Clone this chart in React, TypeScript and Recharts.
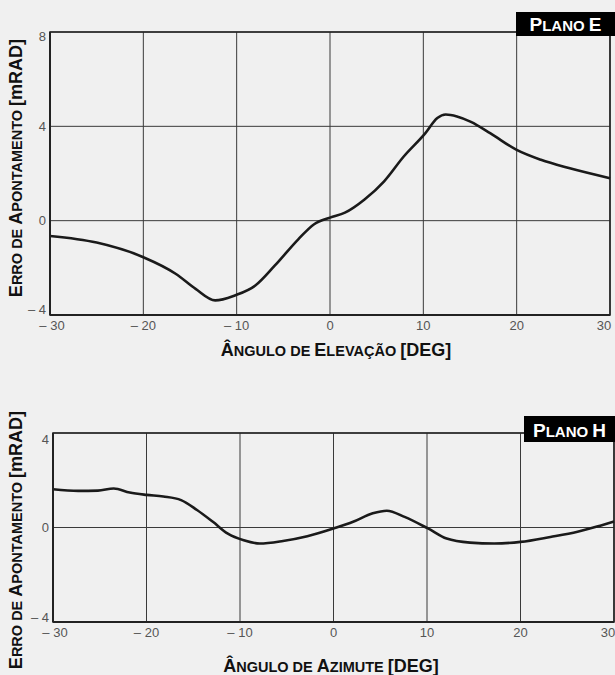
import React from 'react'
import {
  LineChart,
  Line,
  XAxis,
  YAxis,
  CartesianGrid,
  ReferenceArea
} from 'recharts'

// Plano E: elevation angle vs pointing error
const elevAngles = [-30, -25, -20, -16.5, -14.4, -12.3, -10.2, -8, -5.9, -3.4, -1.7, 0, 1.6, 3.7, 5.8, 7.9, 10.2, 11.5, 12.4, 13.6, 15.1, 17.2, 20, 22.6, 25.6, 30]
const elevError = [-0.65, -0.93, -1.55, -2.26, -2.89, -3.38, -3.17, -2.75, -1.9, -0.79, -0.15, 0.13, 0.34, 0.9, 1.67, 2.72, 3.7, 4.35, 4.5, 4.42, 4.19, 3.7, 3.0, 2.58, 2.23, 1.8]

// Plano H: azimuth angle vs pointing error
const aziAngles = [-30, -27.3, -25.2, -23.5, -21.8, -20, -18.2, -16.3, -14.6, -12.9, -11.3, -9.6, -7.9, -5.4, -2.8, 0, 2.1, 4.2, 5.7, 7.6, 10.1, 12.1, 14.6, 17.2, 20, 23.2, 26.1, 28.7, 30]
const aziError = [1.62, 1.55, 1.56, 1.65, 1.48, 1.38, 1.31, 1.16, 0.74, 0.24, -0.26, -0.54, -0.68, -0.57, -0.37, -0.04, 0.24, 0.6, 0.71, 0.45, -0.04, -0.47, -0.64, -0.68, -0.61, -0.4, -0.18, 0.1, 0.25]

const xTicks = [-30, -20, -10, 0, 10, 20, 30]
const xTickLabels = ['– 30', '– 20', '– 10', '0', '10', '20', '30']
const elevYTicks = [-4, 0, 4, 8]
const elevYLabels = ['– 4', '0', '4', '8']
const aziYTicks = [-4, 0, 4]
const aziYLabels = ['– 4', '0', '4']

const elevData = elevAngles.map((a, i) => ({ angle: a, error: elevError[i] }))
const aziData = aziAngles.map((a, i) => ({ angle: a, error: aziError[i] }))

const tickFont = 'Liberation Sans, Arial, sans-serif'
const titleFont = 'Liberation Sans, Arial, sans-serif'
const BIG = 18
const SMALL = 14.5

// edge labels sit inside the frame in the scan, not centred on the corner
const makeYTick = (ticks: number[], labels: string[], shifts: number[]) => (props: any) => {
  const i = ticks.indexOf(props.payload.value)
  return (
    <text x={props.x} y={props.y + shifts[i]} dy="0.35em" textAnchor="end" fill="#555" fontSize={13} fontFamily={tickFont}>
      {labels[i]}
    </text>
  )
}

const XTick = (props: any) => {
  const i = xTicks.indexOf(props.payload.value)
  const last = i === xTicks.length - 1
  return (
    <text x={props.x + (last ? -6 : i === 0 ? 2 : 0)} y={props.y} dy="0.71em" textAnchor="middle" fill="#555" fontSize={13} fontFamily={tickFont}>
      {xTickLabels[i]}
    </text>
  )
}

// small-caps style label: [text, big?]
type Part = [string, boolean]

const SmallCaps = ({ parts, ...rest }: { parts: Part[] } & React.SVGProps<SVGTextElement>) => (
  <text fontFamily={titleFont} fontWeight="bold" fill="#111" {...rest}>
    {parts.map(([t, big], i) => (
      <tspan key={i} fontSize={big ? BIG : SMALL}>{t}</tspan>
    ))}
  </text>
)

const yTitle: Part[] = [['E', true], ['RRO DE ', false], ['A', true], ['PONTAMENTO ', false], ['[mRAD]', true]]
const elevTitle: Part[] = [['Â', true], ['NGULO DE ', false], ['E', true], ['LEVAÇÃO ', false], ['[DEG]', true]]
const aziTitle: Part[] = [['Â', true], ['NGULO DE ', false], ['A', true], ['ZIMUTE ', false], ['[DEG]', true]]

const Badge = ({ x, y, w, h, label }: { x: number; y: number; w: number; h: number; label: Part[] }) => (
  <g>
    <rect x={x} y={y} width={w} height={h} fill="#000" />
    <text x={x + w / 2} y={y + h - 5} textAnchor="middle" fontFamily={titleFont} fontWeight="bold" fill="#fff">
      {label.map(([t, big], i) => (
        <tspan key={i} fontSize={big ? 19 : 15}>{t}</tspan>
      ))}
    </text>
  </g>
)

export default function App() {
  return (
    <div style={{ position: 'absolute', left: 0, top: 0, width: 615, height: 675, background: '#f0f0f0', overflow: 'hidden' }}>
      <div style={{ position: 'absolute', left: 0, top: 0 }}>
        <LineChart width={615} height={345} data={elevData} margin={{ top: 32, right: 5, bottom: 0, left: 20 }}>
          <CartesianGrid stroke="#3a3a3a" strokeWidth={1} fill="none" />
          <ReferenceArea x1={-30} x2={30} y1={-4} y2={8} fill="none" stroke="#222" strokeWidth={1.6} fillOpacity={0} />
          <XAxis
            type="number"
            dataKey="angle"
            domain={[-30, 30]}
            ticks={xTicks}
            interval={0}
            tick={<XTick />}
            tickLine={false}
            axisLine={{ stroke: '#222', strokeWidth: 2 }}
            tickSize={4}
            height={30}
          />
          <YAxis
            type="number"
            domain={[-4, 8]}
            ticks={elevYTicks}
            interval={0}
            tick={makeYTick(elevYTicks, elevYLabels, [-6, 0, 0, 4])}
            tickLine={false}
            axisLine={{ stroke: '#222', strokeWidth: 2 }}
            tickSize={3}
            tickMargin={1}
            width={30}
          />
          <Line type="monotone" dataKey="error" stroke="#1a1a1a" strokeWidth={2.6} dot={false} isAnimationActive={false} />
        </LineChart>
      </div>
      <div style={{ position: 'absolute', left: 0, top: 400 }}>
        <LineChart width={615} height={275} data={aziData} margin={{ top: 33, right: 1, bottom: 23, left: 23 }}>
          <CartesianGrid stroke="#3a3a3a" strokeWidth={1} fill="none" />
          <ReferenceArea x1={-30} x2={30} y1={-4} y2={4} fill="none" stroke="#222" strokeWidth={1.6} fillOpacity={0} />
          <XAxis
            type="number"
            dataKey="angle"
            domain={[-30, 30]}
            ticks={xTicks}
            interval={0}
            tick={<XTick />}
            tickLine={false}
            axisLine={{ stroke: '#222', strokeWidth: 2 }}
            tickSize={4}
            height={30}
          />
          <YAxis
            type="number"
            domain={[-4, 4]}
            ticks={aziYTicks}
            interval={0}
            tick={makeYTick(aziYTicks, aziYLabels, [-5, 0, 6])}
            tickLine={false}
            axisLine={{ stroke: '#222', strokeWidth: 2 }}
            tickSize={3}
            tickMargin={1}
            width={30}
          />
          <Line type="monotone" dataKey="error" stroke="#1a1a1a" strokeWidth={2.6} dot={false} isAnimationActive={false} />
        </LineChart>
      </div>
      <svg width={615} height={675} style={{ position: 'absolute', left: 0, top: 0, pointerEvents: 'none' }}>
        <SmallCaps parts={yTitle} x={0} y={0} textAnchor="middle" transform="translate(22,168) rotate(-90)" />
        <SmallCaps parts={yTitle} x={0} y={0} textAnchor="middle" transform="translate(22,540) rotate(-90)" />
        <SmallCaps parts={elevTitle} x={336} y={356} textAnchor="middle" />
        <SmallCaps parts={aziTitle} x={331} y={672} textAnchor="middle" />
        <Badge x={516} y={12} w={99} h={24} label={[['P', true], ['LANO ', false], ['E', true]]} />
        <Badge x={524} y={416} w={91} h={26} label={[['P', true], ['LANO ', false], ['H', true]]} />
      </svg>
    </div>
  )
}
